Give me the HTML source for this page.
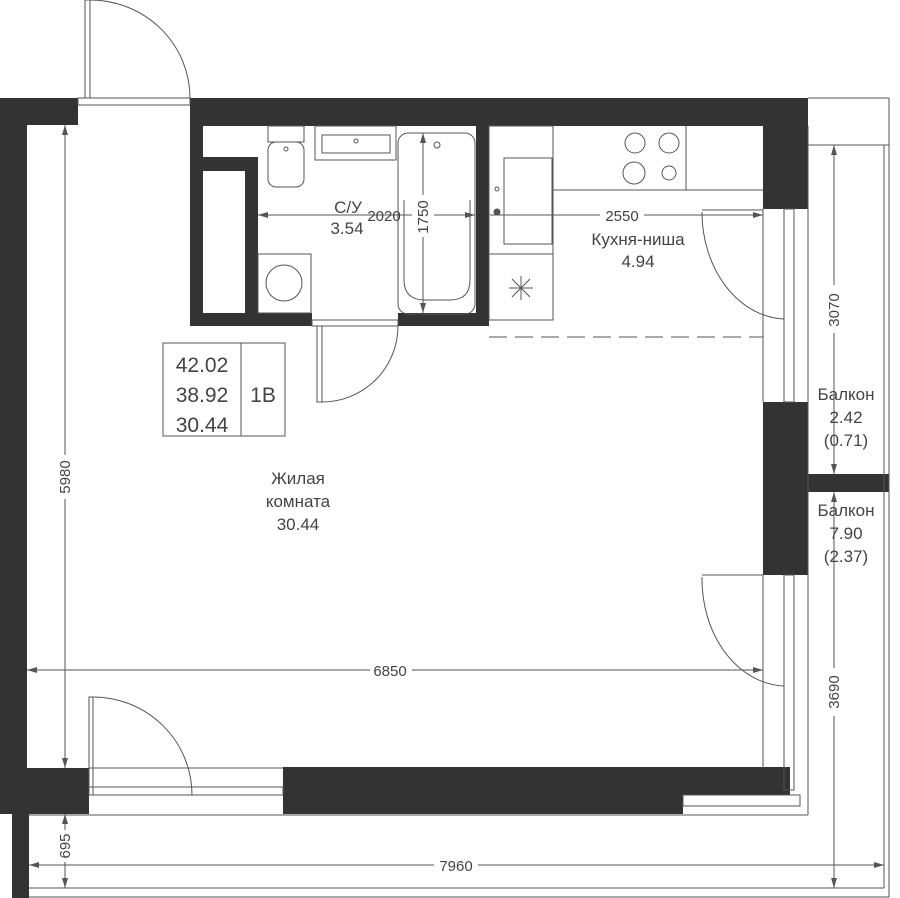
<!DOCTYPE html>
<html><head><meta charset="utf-8"><style>html,body{margin:0;padding:0;background:#fff}svg{display:block}</style></head>
<body>
<svg width="900" height="898" viewBox="0 0 900 898" xmlns="http://www.w3.org/2000/svg" font-family="Liberation Sans, DejaVu Sans, sans-serif" fill="none" stroke="#555" stroke-width="1">
<defs>
<marker id="a" viewBox="0 0 10 6" refX="10" refY="3" markerWidth="10" markerHeight="6" orient="auto-start-reverse" markerUnits="userSpaceOnUse"><path d="M0,0 L10,3 L0,6 Z" fill="#555" stroke="none"/></marker>
</defs>
<g fill="#333" stroke="none">
<rect x="0" y="98" width="78" height="27"/>
<rect x="0" y="98" width="27" height="716"/>
<rect x="0" y="768" width="89" height="46"/>
<rect x="12" y="814" width="17" height="84"/>
<rect x="190" y="98" width="618" height="28"/>
<rect x="763" y="98" width="45" height="111"/>
<rect x="190" y="126" width="13" height="200"/>
<rect x="190" y="157" width="68" height="14"/>
<rect x="245" y="157" width="13" height="158"/>
<rect x="190" y="313" width="122" height="13"/>
<rect x="398" y="313" width="91" height="13"/>
<rect x="476" y="126" width="13" height="200"/>
<rect x="763" y="402" width="45" height="173"/>
<rect x="808" y="474" width="81" height="18"/>
<rect x="283" y="767" width="507" height="28"/>
<rect x="283" y="795" width="400" height="19"/>
</g>
<rect x="85" y="0" width="5" height="98"/>
<path d="M90,0 A100,98 0 0 1 190,98"/>
<rect x="78" y="98" width="112" height="7"/>
<rect x="268" y="126" width="36" height="16"/>
<rect x="268" y="142" width="36" height="45" rx="8"/>
<circle cx="286" cy="149" r="2"/>
<rect x="315" y="126" width="81" height="34"/>
<rect x="322" y="135" width="68" height="18"/>
<circle cx="356" cy="141" r="2"/>
<rect x="398" y="133" width="77" height="181" rx="10"/>
<path d="M404,280 L404,200 M470,200 L470,280 Q470,300 450,300 L425,300 Q404,300 404,280"/>
<circle cx="437" cy="145" r="3"/>
<rect x="258" y="254" width="53" height="59"/>
<circle cx="284" cy="283" r="18"/>
<line x1="258" y1="215" x2="475" y2="215" marker-start="url(#a)" marker-end="url(#a)"/>
<line x1="423" y1="133" x2="423" y2="313" marker-start="url(#a)" marker-end="url(#a)"/>
<rect x="317" y="326" width="5" height="76"/>
<path d="M322,402 A76,76 0 0 0 398,326"/>
<rect x="312" y="320" width="86" height="6"/>
<rect x="489" y="126" width="64" height="194"/>
<line x1="489" y1="254" x2="553" y2="254"/>
<rect x="504" y="158" width="48" height="86"/>
<line x1="553" y1="190" x2="763" y2="190"/>
<line x1="686" y1="126" x2="686" y2="190"/>
<circle cx="635" cy="143" r="10"/><circle cx="669" cy="143" r="10"/>
<circle cx="634" cy="173" r="11"/><circle cx="669" cy="173" r="7"/>
<path d="M509,288 L533,288 M521,276 L521,300 M512,279 L530,297 M530,279 L512,297"/>
<circle cx="497" cy="212" r="3" fill="#555"/>
<circle cx="497" cy="189" r="2"/>
<line x1="490" y1="215" x2="763" y2="215" marker-end="url(#a)"/>
<path d="M489,337 L763,337" stroke-dasharray="18,8"/>
<line x1="702" y1="210" x2="763" y2="210"/>
<path d="M702,212 A85,107 0 0 0 784,319"/>
<line x1="763" y1="209" x2="763" y2="402"/>
<rect x="784" y="209" width="10" height="193"/>
<line x1="763" y1="575" x2="763" y2="768"/>
<rect x="784" y="575" width="10" height="215"/>
<line x1="702" y1="575" x2="763" y2="575"/>
<path d="M702,577 A85,107 0 0 0 784,686"/>
<rect x="683" y="795" width="117" height="11"/>
<line x1="808" y1="98" x2="889" y2="98"/>
<line x1="808" y1="145" x2="889" y2="145"/>
<line x1="808" y1="126" x2="808" y2="815"/>
<line x1="884" y1="145" x2="884" y2="888"/>
<line x1="889" y1="98" x2="889" y2="897"/>
<line x1="29" y1="815" x2="808" y2="815"/>
<line x1="29" y1="888" x2="884" y2="888"/>
<line x1="29" y1="897" x2="889" y2="897"/>
<rect x="89" y="697" width="4" height="98"/>
<path d="M93,697 A99,98 0 0 1 192,795"/>
<line x1="89" y1="768" x2="283" y2="768"/>
<rect x="89" y="787" width="194" height="8"/>
<line x1="65" y1="125" x2="65" y2="768" marker-start="url(#a)" marker-end="url(#a)"/>
<line x1="27" y1="670" x2="763" y2="670" marker-start="url(#a)" marker-end="url(#a)"/>
<line x1="834" y1="145" x2="834" y2="474" marker-start="url(#a)" marker-end="url(#a)"/>
<line x1="834" y1="492" x2="834" y2="888" marker-start="url(#a)" marker-end="url(#a)"/>
<line x1="65" y1="814" x2="65" y2="888" marker-start="url(#a)" marker-end="url(#a)"/>
<line x1="29" y1="865" x2="884" y2="865" marker-start="url(#a)" marker-end="url(#a)"/>
<rect x="163" y="343" width="122" height="93"/>
<line x1="241" y1="343" x2="241" y2="436"/>
<g fill="#fff" stroke="none">
<rect x="52" y="455" width="26" height="44"/><rect x="370" y="660" width="42" height="20"/>
<rect x="821" y="285" width="26" height="48"/><rect x="821" y="668" width="26" height="48"/>
<rect x="52" y="830" width="26" height="32"/><rect x="434" y="855" width="44" height="20"/>
<rect x="600" y="205" width="44" height="20"/><rect x="412" y="195" width="22" height="42"/>
</g>
<g fill="#444" stroke="none" font-size="15" text-anchor="middle">
<text x="390" y="676">6850</text>
<text x="456" y="871">7960</text>
<text x="622" y="221">2550</text>
<text x="384" y="221">2020</text>
<text transform="translate(70,477) rotate(-90)">5980</text>
<text transform="translate(839,310) rotate(-90)">3070</text>
<text transform="translate(839,692) rotate(-90)">3690</text>
<text transform="translate(70,846) rotate(-90)">695</text>
<text transform="translate(428,217) rotate(-90)">1750</text>
<g font-size="17">
<text x="348" y="213">С/У</text><text x="347" y="234">3.54</text>
<text x="638" y="245">Кухня-ниша</text><text x="638" y="267">4.94</text>
<text x="298" y="484">Жилая</text><text x="298" y="507">комната</text><text x="298" y="530">30.44</text>
<text x="846" y="400">Балкон</text><text x="846" y="423">2.42</text><text x="846" y="446">(0.71)</text>
<text x="846" y="516">Балкон</text><text x="846" y="539">7.90</text><text x="846" y="562">(2.37)</text>
</g>
<g font-size="21">
<text x="202" y="372">42.02</text><text x="202" y="402">38.92</text><text x="202" y="432">30.44</text>
<text x="263" y="402">1B</text>
</g>
</g>
</svg>
</body></html>
